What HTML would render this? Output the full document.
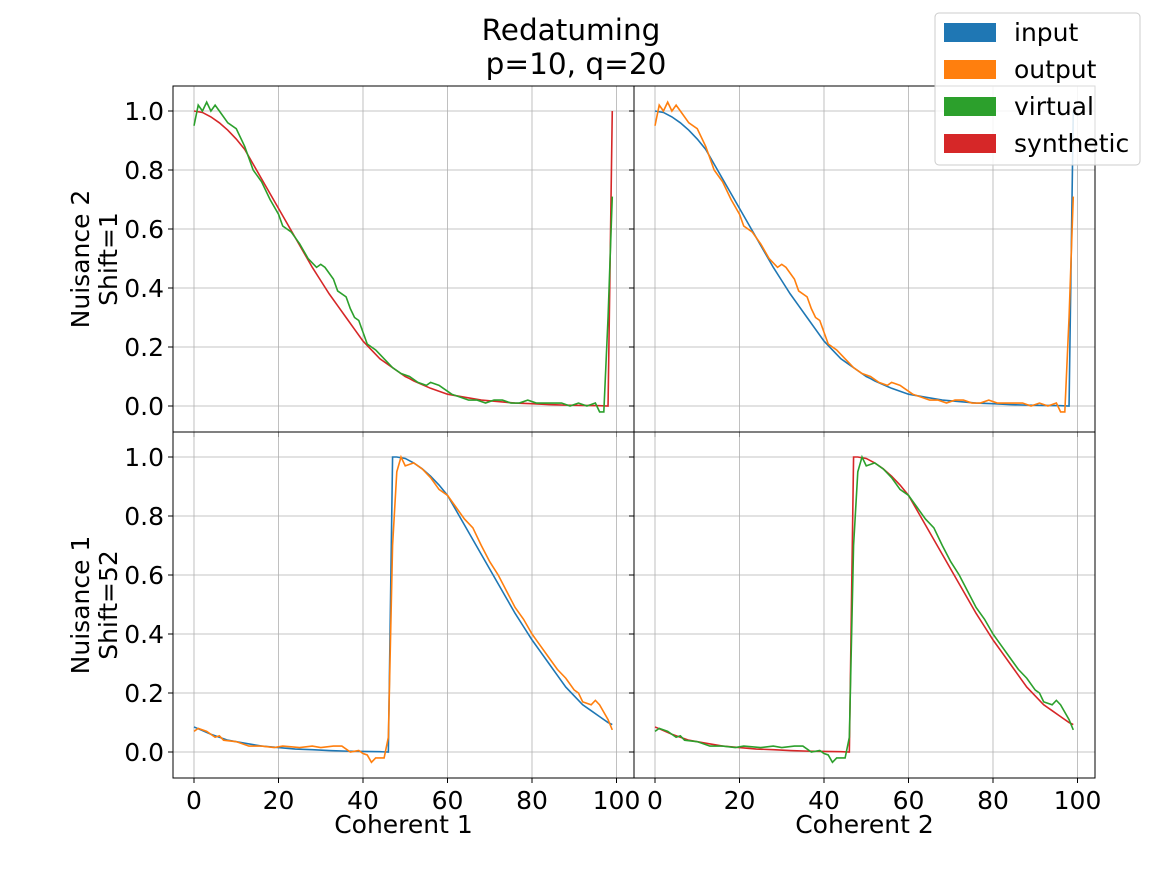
<!DOCTYPE html>
<html><head><meta charset="utf-8"><style>
body{margin:0;background:#fff;font-family:"Liberation Sans","DejaVu Sans",sans-serif}
svg text{font-family:"DejaVu Sans","Liberation Sans",sans-serif}
</style></head><body>
<svg id="fig" width="1152" height="864" xmlns="http://www.w3.org/2000/svg">
<rect width="1152" height="864" fill="#fff"/>
<text x="571" y="40" font-size="29.5" text-anchor="middle">Redatuming</text>
<text x="576" y="74" font-size="29.5" text-anchor="middle">p=10, q=20</text>
<g id="plots"></g>
<g>
<rect x="935" y="13" width="205" height="152" rx="4" fill="#fff" fill-opacity="0.85" stroke="#ccc"/>
<rect x="944" y="23" width="52" height="19" fill="#1f77b4"/>
<text x="1014" y="41" font-size="25">input</text>
<rect x="944" y="60" width="52" height="19" fill="#ff7f0e"/>
<text x="1014" y="78" font-size="25">output</text>
<rect x="944" y="97" width="52" height="19" fill="#2ca02c"/>
<text x="1014" y="115" font-size="25">virtual</text>
<rect x="944" y="134" width="52" height="19" fill="#d62728"/>
<text x="1014" y="152" font-size="25">synthetic</text>
</g>
</svg>
<script>
const smoothX=[0,2,4,6,8,10,12,14,16,18,20,22,24,26,28,30,32,34,36,38,40,42,44,46,48,50,51,52,56,60,64,68,72,76,80,84,88,92,96,98,99];
const smoothY=[1.0,0.995,0.98,0.96,0.935,0.905,0.87,0.82,0.77,0.72,0.67,0.62,0.57,0.52,0.47,0.425,0.38,0.34,0.30,0.26,0.22,0.19,0.16,0.14,0.12,0.10,0.093,0.085,0.06,0.04,0.03,0.02,0.015,0.01,0.008,0.005,0.003,0.002,0.001,0.0,1.0];
const noisyTopX=[0,1,2,3,4,5,6,8,10,12,14,16,18,20,21,23,25,27,29,30,31,33,34,36,37,38,39,40,41,43,45,47,49,51,53,55,56,58,59,61,63,65,67,69,71,73,75,77,79,81,83,85,87,89,91,93,95,96,97,98,99];
const noisyTopY=[0.95,1.02,1.0,1.03,1.0,1.02,1.0,0.96,0.94,0.88,0.80,0.76,0.70,0.65,0.61,0.59,0.55,0.50,0.47,0.48,0.47,0.43,0.39,0.37,0.33,0.30,0.29,0.25,0.21,0.19,0.16,0.13,0.11,0.10,0.08,0.07,0.08,0.07,0.06,0.04,0.03,0.02,0.02,0.01,0.02,0.02,0.01,0.01,0.02,0.01,0.01,0.01,0.01,0.0,0.01,0.0,0.01,-0.02,-0.02,0.3,0.71];
const noisyBotX=[0,1,3,5,6,7,10,13,16,19,21,25,28,30,33,35,37,39,40,41,42,43,45,46,47,48,49,50,52,54,56,58,60,62,64,66,68,70,72,74,76,78,80,82,84,86,88,90,91,92,94,95,96,98,99];
const noisyBotY=[0.07,0.08,0.07,0.05,0.055,0.04,0.035,0.02,0.02,0.015,0.02,0.015,0.02,0.015,0.02,0.02,0.0,0.005,-0.005,-0.01,-0.035,-0.02,-0.02,0.05,0.7,0.95,1.0,0.97,0.98,0.96,0.93,0.89,0.87,0.83,0.79,0.76,0.70,0.645,0.60,0.545,0.49,0.45,0.40,0.36,0.32,0.28,0.25,0.21,0.20,0.17,0.16,0.175,0.16,0.11,0.075];
const rollAmt=[0,52];
const xTicks=[0,20,40,60,80,100];
const yTicks=[0.0,0.2,0.4,0.6,0.8,1.0];
const rowLabels=[["Nuisance 2","Shift=1"],["Nuisance 1","Shift=52"]];
const colLabels=["Coherent 1","Coherent 2"];
const C={input:"#1f77b4",output:"#ff7f0e",virtual:"#2ca02c",synthetic:"#d62728"};
const NS="http://www.w3.org/2000/svg";
const G=document.getElementById('plots');
function mk(t,a,p){const e=document.createElementNS(NS,t);for(const k in a)e.setAttribute(k,a[k]);(p||G).appendChild(e);return e;}
function roll(xs,ys,s){const pts=xs.map((x,i)=>[((x-s)%100+100)%100,ys[i]]);pts.sort((a,b)=>a[0]-b[0]);return pts;}
const panels=[{r:0,c:0,a:"synthetic",b:"virtual"},{r:0,c:1,a:"input",b:"output"},{r:1,c:0,a:"input",b:"output"},{r:1,c:1,a:"synthetic",b:"virtual"}];
panels.forEach(p=>{
  const L=173+p.c*461,R=L+461,T=86+p.r*346,B=T+346;
  const x0=L+21,kx=4.225;const y0=T+320,ky=295;
  const sx=v=>x0+v*kx, sy=v=>y0-v*ky;
  const g=mk('g',{});
  
  
  xTicks.forEach(t=>{const l=mk('line',{x1:sx(t),x2:sx(t),y1:T,y2:B,stroke:'#b0b0b0','stroke-width':0.8},g);
    mk('line',{x1:sx(t),x2:sx(t),y1:B,y2:B+5,stroke:'#000'},g);
    if(p.r==1){const tx=mk('text',{x:sx(t),y:B+31,'font-size':25,'text-anchor':'middle'},g);tx.textContent=t;}});
  yTicks.forEach(t=>{const l=mk('line',{x1:L,x2:R,y1:sy(t),y2:sy(t),stroke:'#b0b0b0','stroke-width':0.8},g);
    mk('line',{x1:L-5,x2:L,y1:sy(t),y2:sy(t),stroke:'#000'},g);
    if(p.c==0){const tx=mk('text',{x:L-9,y:sy(t)+9,'font-size':25,'text-anchor':'end'},g);tx.textContent=t.toFixed(1);}});
  const s=rollAmt[p.r];
  const sm=roll(smoothX,smoothY,s);
  const nz=p.r==0?roll(noisyTopX,noisyTopY,0):roll(noisyBotX,noisyBotY,0);
  const pa=mk('polyline',{points:sm.map(q=>sx(q[0])+','+sy(q[1])).join(' '),fill:'none',stroke:C[p.a],'stroke-width':1.6},g);
  
  const pb=mk('polyline',{points:nz.map(q=>sx(q[0])+','+sy(q[1])).join(' '),fill:'none',stroke:C[p.b],'stroke-width':1.6},g);
  
  mk('rect',{x:L,y:T,width:461,height:346,fill:'none',stroke:'#000','stroke-width':1},g);
  if(p.c==0){const cy=(T+B)/2;rowLabels[p.r].forEach((t,i)=>{const tx=mk('text',{x:0,y:0,'font-size':25,'text-anchor':'middle',transform:`translate(${89+i*28},${cy}) rotate(-90)`},g);tx.textContent=t;});}
  if(p.r==1){const tx=mk('text',{x:(L+R)/2,y:833,'font-size':25,'text-anchor':'middle'},g);tx.textContent=colLabels[p.c];}
});
</script>
</body></html>
